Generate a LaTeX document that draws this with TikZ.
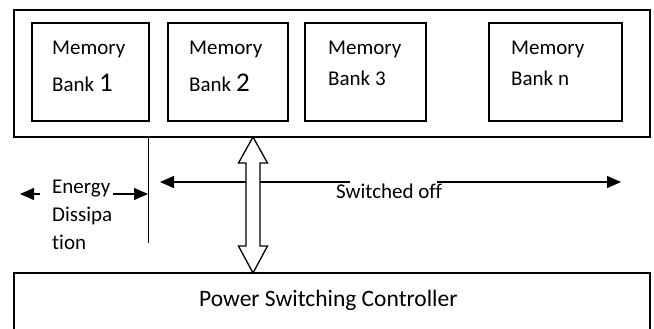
\documentclass[tikz,border=0pt]{standalone}
\usepackage{fontspec}
\setmainfont[Ligatures=NoCommon]{Carlito}
\usetikzlibrary{arrows.meta,calc}
\begin{document}
\begin{tikzpicture}[x=1pt,y=-1pt,
  box/.style={draw,line width=1.3pt,rectangle,inner sep=0pt,outer sep=0pt,anchor=north west},
  bank/.style={box,minimum height=98pt},
  lbl/.style={anchor=base west,inner sep=0pt,font=\fontsize{21}{25}\selectfont},
  wire/.style={line width=1.3pt},
  tip/.style={-{Triangle[length=14pt,width=12pt]}}]
\useasboundingbox (0,0) rectangle (654,329);

% memory array enclosure and banks
\node[box,minimum width=636pt,minimum height=127pt] (outer) at (14,10) {};
\node[bank,minimum width=117pt] (b1) at (32,23) {};
\node[bank,minimum width=120pt] (b2) at (168,23) {};
\node[bank,minimum width=121pt] (b3) at (305,23) {};
\node[bank,minimum width=133pt] (bn) at (489,23) {};

\node[lbl] (b1a) at (52,55) {Memory};
\node[lbl] (b1b) at (52,92) {Bank \fontsize{27}{30}\selectfont 1};
\node[lbl] (b2a) at (189,55) {Memory};
\node[lbl] (b2b) at (189,92) {Bank \fontsize{27}{30}\selectfont 2};
\node[lbl] (b3a) at (328,55) {Memory};
\node[lbl] (b3b) at (328,85) {Bank 3};
\node[lbl] (bna) at (511,55) {Memory};
\node[lbl] (bnb) at (511,85) {Bank n};

% power switching controller
\node[box,minimum width=636pt,minimum height=70pt] (ctrl) at (14,273) {};
\node[lbl,font=\fontsize{23.5}{27}\selectfont] (ctrlt) at (199,306) {Power Switching Controller};

% boundary of the switched-off region
\coordinate (wall) at (148,0);
\coordinate (wallend) at (148,243);
\draw[line width=1pt] (outer.south -| wall) -- (wallend);

% switched-off span
\coordinate (offa) at (350,182);
\coordinate (offl) at (160,182);
\coordinate (offb) at (437,182);
\coordinate (offr) at (621,182);
\draw[wire,tip] (offa) -- (offl);
\draw[wire,tip] (offb) -- (offr);
\node[lbl] (offt) at (336,198) {Switched off};

% energy dissipation
\coordinate (ea) at (113,194);
\coordinate (eb) at (40,194);
\coordinate (ec) at (20,194);
\draw[wire,tip] (ea) -- (ea -| wall);
\draw[wire,tip] (eb) -- (ec);
\node[lbl] (e1) at (52,193) {Energy};
\node[lbl] (e2) at (52,221) {Dissipa};
\node[lbl] (e3) at (52,249) {tion};

% bidirectional bus between array and controller
\coordinate (bus) at (253,0);
\coordinate (t) at (outer.south -| bus);
\coordinate (u) at (ctrl.north -| bus);
\draw[wire,fill=white,line join=miter]
  (t) -- ($(t)+(14.5,26)$) -- ($(t)+(7,26)$) -- ($(u)+(7,-27)$) -- ($(u)+(14.5,-27)$)
  -- (u) -- ($(u)+(-14.5,-27)$) -- ($(u)+(-7,-27)$) -- ($(t)+(-7,26)$) -- ($(t)+(-14.5,26)$) -- cycle;
\end{tikzpicture}
\end{document}
